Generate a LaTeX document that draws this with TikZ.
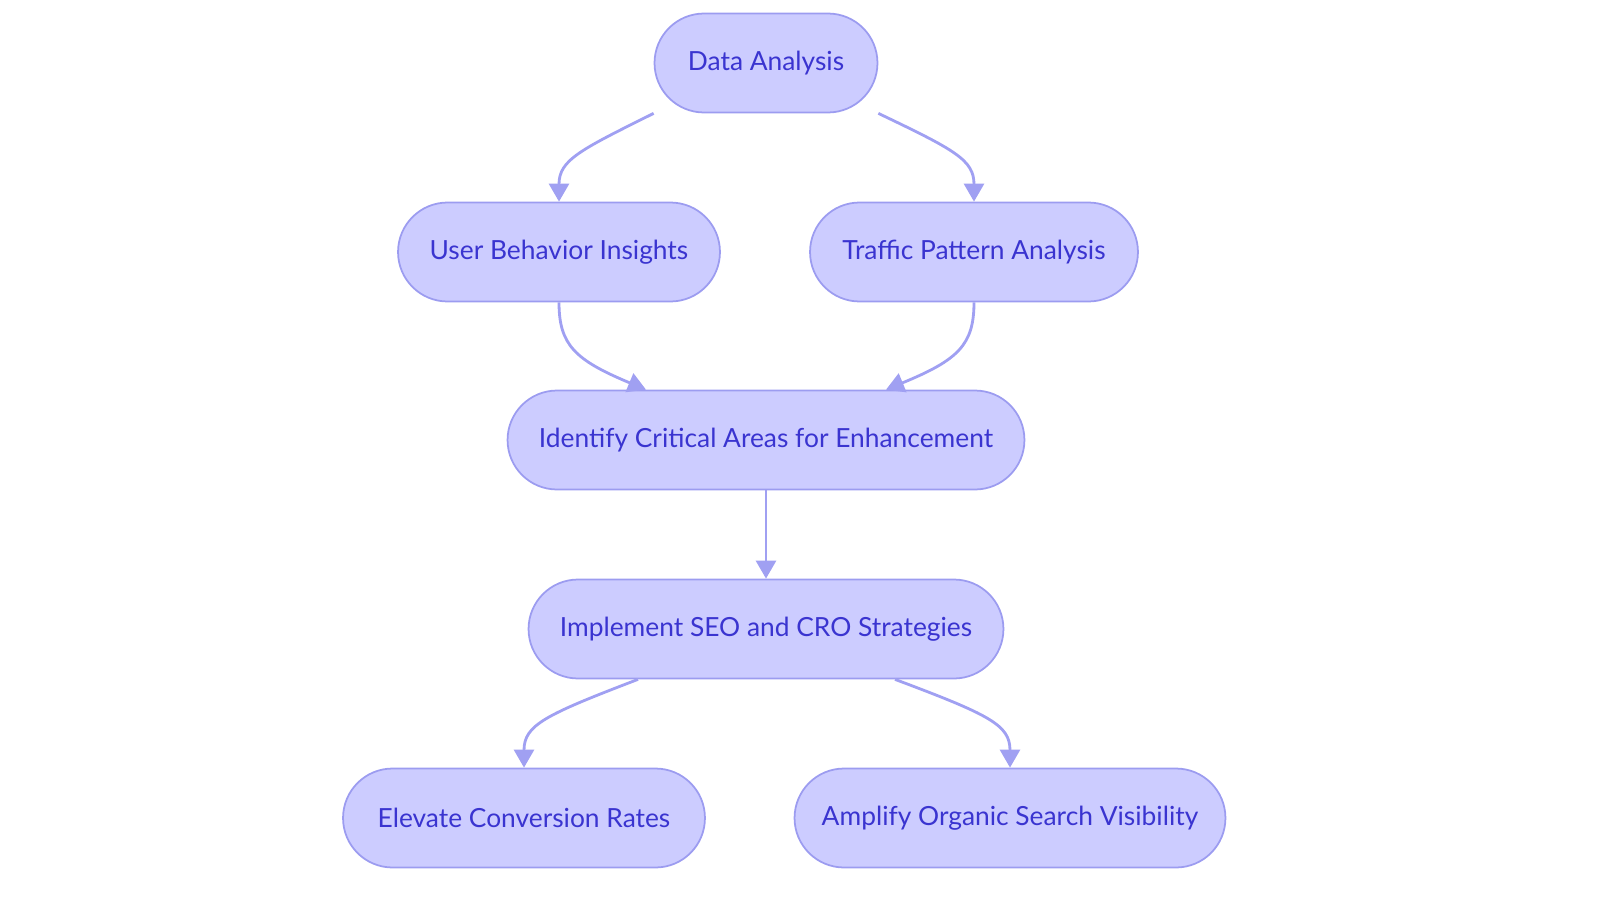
\documentclass[tikz,border=0pt]{standalone}
\usepackage{fontspec}
\setmainfont{Lato}
\usetikzlibrary{positioning,calc,arrows.meta}
\definecolor{boxfill}{HTML}{CCCCFF}
\definecolor{boxline}{HTML}{9C9CF0}
\definecolor{boxtext}{HTML}{3A34D0}
\definecolor{linkcol}{HTML}{A0A0F2}
\tikzset{
  stage/.style={draw=boxline, fill=boxfill, text=boxtext, line width=1pt,
    rounded corners=0.99cm, minimum height=1.98cm, font=\fontsize{15}{17}\selectfont},
  link/.style={draw=linkcol, line width=1.6pt, -{Triangle[length=0.36cm,width=0.4cm]}}
}
\begin{document}
\begin{tikzpicture}[x=0.02cm, y=-0.02cm]
    \useasboundingbox (0,0) rectangle (1600,903);

    % Stages
    \node[stage, minimum width=4.46cm] (da) at (766,63) {Data Analysis};
    \node[stage, minimum width=6.44cm] (ubi) at (559,252) {User Behavior Insights};
    \node[stage, minimum width=6.56cm] (tpa) at (974,252) {Traffic Pattern Analysis};
    \node[stage, minimum width=10.34cm] (ica) at (766,440) {Identify Critical Areas for Enhancement};
    \node[stage, minimum width=9.5cm] (isc) at (766,629) {Implement SEO and CRO Strategies};
    \node[stage, minimum width=7.24cm] (ecr) at (524,818) {Elevate Conversion Rates};
    \node[stage, minimum width=8.62cm] (aos) at (1010,818) {Amplify Organic Search Visibility};

    % Links
    \draw[link] (da.south west) .. controls (580,150) and (559,160) .. (ubi.north);
    \draw[link] (da.south east) .. controls (955,150) and (974,160) .. (tpa.north);
    \draw[link] (ubi.south) .. controls (559,345) and (575,360) .. ($(ica.north)+(-120,0)$);
    \draw[link] (tpa.south) .. controls (974,345) and (958,360) .. ($(ica.north)+(120,0)$);
    \draw[link] (ica) -- (isc);
    \draw[link] ($(isc.south)+(-128,0)$) .. controls (545,715) and (524,725) .. (ecr.north);
    \draw[link] ($(isc.south)+(129,0)$) .. controls (990,715) and (1010,725) .. (aos.north);
\end{tikzpicture}
\end{document}
